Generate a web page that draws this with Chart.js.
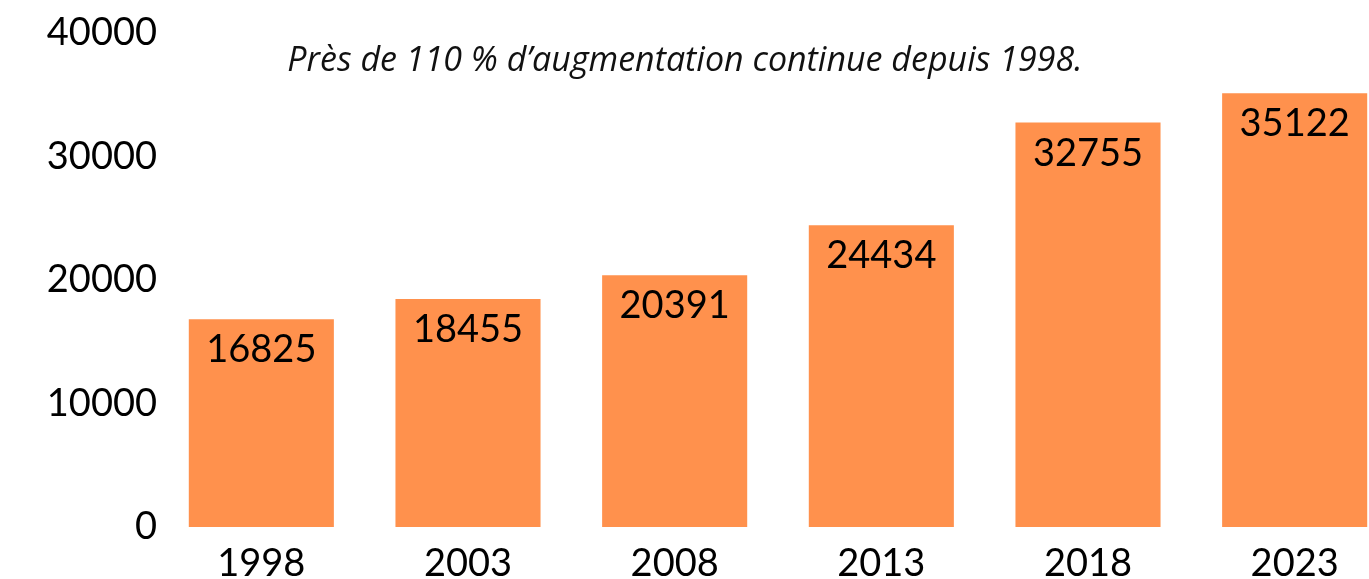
<!DOCTYPE html>
<html lang="fr">
<head>
    <meta charset="utf-8">
    <script src="https://cdn.jsdelivr.net/npm/chart.js@4.4.0/dist/chart.umd.min.js"></script>
    <style>
        html, body { margin: 0; padding: 0; background: #fff; overflow: hidden; }
        #wrap { width: 1400px; height: 579px; }
    </style>
</head>
<body>
<div id="wrap"><canvas id="myChart"></canvas></div>
<script>
    const years = ['1998', '2003', '2008', '2013', '2018', '2023'];
    const values = [16825, 18455, 20391, 24434, 32755, 35122];
    const yTicks = [0, 10000, 20000, 30000, 40000];
    const subtitle = 'Près de 110 % d\u2019augmentation continue depuis 1998.';

    const numFont = { family: 'Lato', size: 38 };

    // value labels inside the top of each bar + the italic note
    const labelsPlugin = {
        id: 'labels',
        afterDatasetsDraw(chart) {
            const ctx = chart.ctx;
            const meta = chart.getDatasetMeta(0);
            ctx.save();
            ctx.font = numFont.size + 'px ' + numFont.family;
            ctx.fillStyle = '#000';
            ctx.textAlign = 'center';
            ctx.textBaseline = 'middle';
            meta.data.forEach((bar, i) => {
                ctx.fillText(values[i], bar.x, bar.y + 31);
            });
            ctx.font = 'italic 34px "Open Sans"';
            ctx.fillStyle = '#111';
            ctx.fillText(subtitle, 685, 61);
            ctx.restore();
        }
    };

    const config = {
        type: 'bar',
        data: {
            labels: years,
            datasets: [{
                data: values,
                backgroundColor: '#FF914D',
                barPercentage: 0.702,
                categoryPercentage: 1
            }]
        },
        options: {
            responsive: true,
            maintainAspectRatio: false,
            animation: false,
            layout: { padding: { top: 33, right: 2, bottom: 0, left: 0 } },
            plugins: {
                legend: { display: false },
                tooltip: { enabled: false }
            },
            scales: {
                x: {
                    grid: { display: false },
                    border: { display: false },
                    ticks: { color: '#000', font: numFont, padding: 6 },
                    afterFit: axis => { axis.height = 52; }
                },
                y: {
                    min: 0,
                    max: 40000,
                    grid: { display: false, drawTicks: false },
                    border: { display: false },
                    afterBuildTicks: axis => { axis.ticks = yTicks.map(v => ({ value: v })); },
                    ticks: { color: '#000', font: numFont, padding: 1, callback: v => String(v) },
                    afterFit: axis => { axis.width = 158; }
                }
            }
        },
        plugins: [labelsPlugin]
    };

    const myChart = new Chart(document.getElementById('myChart'), config);
</script>
</body>
</html>
